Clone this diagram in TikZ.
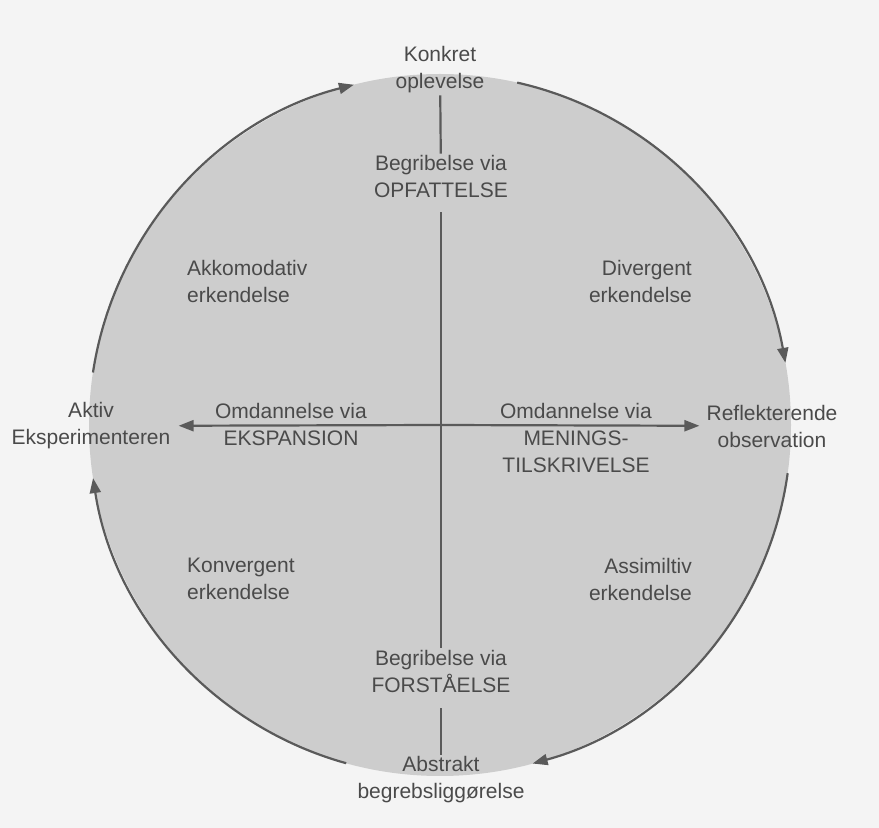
\documentclass[tikz,border=0pt]{standalone}
\usepackage{fontspec}
\setmainfont{Liberation Sans}
\usetikzlibrary{arrows.meta,calc}
\definecolor{txtgrey}{HTML}{4A4A4A}
\definecolor{lngrey}{HTML}{5A5A5A}
\definecolor{discgrey}{HTML}{CDCDCD}
\definecolor{paper}{HTML}{F4F4F4}
\begin{document}
\begin{tikzpicture}[x=1pt,y=1pt,
  lbl/.style={font=\fontsize{21}{27}\selectfont, text=txtgrey, inner sep=2pt, align=center},
  ln/.style={draw=lngrey, line width=2.2pt},
  arr/.style={ln, -{Triangle[length=15pt,width=11pt]}}]
\fill[paper] (0,0) rectangle (879,828);
\useasboundingbox (0,0) rectangle (879,828);
\coordinate (c) at (440,403);
\fill[discgrey] (c) circle[radius=351];
% labels
\node[lbl] (konkret) at (440,758) {Konkret\\oplevelse};
\node[lbl] (opf) at (441,651) {Begribelse via\\OPFATTELSE};
\node[lbl, anchor=west, align=left] (akk) at (185,547) {Akkomodativ\\erkendelse};
\node[lbl, anchor=east, align=right] (div) at (694,547) {Divergent\\erkendelse};
\node[lbl] (aktiv) at (91,402) {Aktiv\\Eksperimenteren};
\node[lbl] (refl) at (772,402) {Reflekterende\\observation};
\node[lbl] (omdL) at (291,404) {Omdannelse via\\EKSPANSION};
\node[lbl] (omdR) at (576,390) {Omdannelse via\\MENINGS-\\TILSKRIVELSE};
\node[lbl, anchor=west, align=left] (konv) at (185,249) {Konvergent\\erkendelse};
\node[lbl, anchor=east, align=right] (assim) at (694,249) {Assimiltiv\\erkendelse};
\node[lbl] (forst) at (441,157) {Begribelse via\\FORSTÅELSE};
\node[lbl] (abstrakt) at (441,48) {Abstrakt\\begrebsliggørelse};
% cycle arcs
\coordinate (a1) at ($(c)+(171.4:351)$);
\coordinate (a2) at ($(c)+(77.3:351)$);
\coordinate (a3) at ($(c)+(-7.9:351)$);
\coordinate (a4) at ($(c)+(-105.5:351)$);
\draw[arr] (a1) arc[start angle=171.4, end angle=104.2, radius=351];
\draw[arr] (a2) arc[start angle=77.3, end angle=10.2, radius=351];
\draw[arr] (a3) arc[start angle=-7.9, end angle=-74.7, radius=351];
\draw[arr] (a4) arc[start angle=-105.5, end angle=-171.3, radius=351];
% axes
\draw[ln] (konkret) -- (opf);
\draw[ln, shorten <=12pt] (opf) -- (forst);
\draw[ln, shorten <=14pt] (forst) -- (abstrakt);
\draw[arr, shorten >=6pt] (c) -- (aktiv);
\draw[arr, shorten >=5pt] (c) -- (refl);
\end{tikzpicture}
\end{document}
